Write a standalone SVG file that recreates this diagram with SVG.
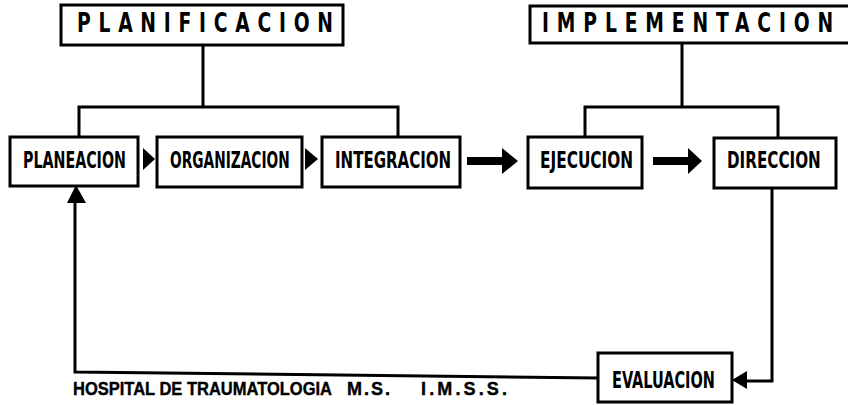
<svg xmlns="http://www.w3.org/2000/svg" width="848" height="405" viewBox="0 0 848 405">
<style>
.box{fill:#fff;stroke:#000;stroke-width:3}
.ln{fill:none;stroke:#000;stroke-width:3;stroke-linejoin:miter}
.t{font-family:"DejaVu Sans Condensed","DejaVu Sans",sans-serif;font-weight:bold;font-size:23px;fill:#000}
.h{font-family:"DejaVu Sans Condensed","DejaVu Sans",sans-serif;font-weight:bold;font-size:26px;fill:#000}
.f{font-family:"Liberation Sans",Arial,sans-serif;font-weight:bold;font-size:18px;fill:#000;stroke:#000;stroke-width:0.4}
.ah{fill:#000;stroke:none}
</style>
<rect width="848" height="405" fill="#fff"/>
<g id="connectors">
  <polyline class="ln" points="203,45 203,107"/>
  <polyline class="ln" points="79,137 79,107 398,107 398,137"/>
  <polyline class="ln" points="682,43 682,107"/>
  <polyline class="ln" points="585,137 585,107 778,107 778,137"/>
  <polygon class="ah" points="143,148 155,159 143,170"/>
  <polygon class="ah" points="305,148 318,159 305,170"/>
  <polygon class="ah" points="467,157 502,157 502,148 518,161 502,174 502,165 467,165"/>
  <polygon class="ah" points="653,157 688,157 688,148 702,161 688,174 688,165 653,165"/>
  <polyline class="ln" points="772,188 772,381 745,381"/>
  <polygon class="ah" points="732,380 747,371 747,389"/>
  <polyline class="ln" points="598,378 75,372 75,200"/>
  <polygon class="ah" points="76,185 67,203 86,203"/>
</g>
<g id="planificacion">
  <rect class="box" x="61" y="5" width="282" height="40"/>
  <text class="h" transform="translate(77,32) scale(0.8,1)" x="0" y="0" textLength="320" lengthAdjust="spacing">PLANIFICACION</text>
</g>
<g id="implementacion">
  <rect class="box" x="530" y="6" width="330" height="37"/>
  <text class="h" transform="translate(542,32) scale(0.8,1)" x="0" y="0" textLength="364" lengthAdjust="spacing">IMPLEMENTACION</text>
</g>
<g id="planeacion">
  <rect class="box" x="10" y="137" width="128" height="49"/>
  <text class="t" transform="translate(23,168) scale(0.7,1)" x="0" y="0" textLength="147" lengthAdjust="spacingAndGlyphs">PLANEACION</text>
</g>
<g id="organizacion">
  <rect class="box" x="157" y="137" width="145" height="50"/>
  <text class="t" transform="translate(170,168) scale(0.7,1)" x="0" y="0" textLength="171" lengthAdjust="spacingAndGlyphs">ORGANIZACION</text>
</g>
<g id="integracion">
  <rect class="box" x="322" y="137" width="138" height="50"/>
  <text class="t" transform="translate(335,168) scale(0.7,1)" x="0" y="0" textLength="166" lengthAdjust="spacingAndGlyphs">INTEGRACION</text>
</g>
<g id="ejecucion">
  <rect class="box" x="528" y="137" width="114" height="51"/>
  <text class="t" transform="translate(540,168) scale(0.7,1)" x="0" y="0" textLength="133" lengthAdjust="spacingAndGlyphs">EJECUCION</text>
</g>
<g id="direccion">
  <rect class="box" x="714" y="138" width="122" height="50"/>
  <text class="t" transform="translate(727,168) scale(0.7,1)" x="0" y="0" textLength="134" lengthAdjust="spacingAndGlyphs">DIRECCION</text>
</g>
<g id="evaluacion">
  <rect class="box" x="598" y="353" width="134" height="49"/>
  <text class="t" transform="translate(612,388) scale(0.7,1)" x="0" y="0" textLength="147" lengthAdjust="spacingAndGlyphs">EVALUACION</text>
</g>
<g id="footer">
  <text class="f" transform="translate(73,395) scale(0.89,1)" x="0" y="0" textLength="291" lengthAdjust="spacingAndGlyphs">HOSPITAL DE TRAUMATOLOGIA</text>
  <text class="f" x="347" y="395" textLength="43" lengthAdjust="spacing">M.S.</text>
  <text class="f" x="421" y="395" textLength="86" lengthAdjust="spacing">I.M.S.S.</text>
</g>
</svg>
